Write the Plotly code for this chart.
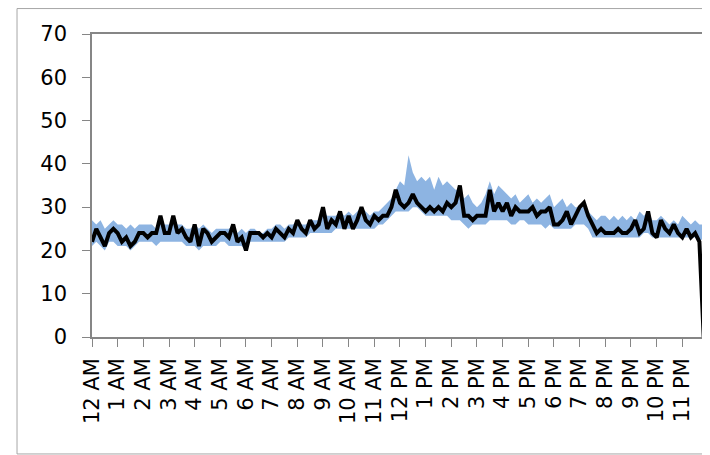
import plotly.graph_objects as go

# 10-minute samples, hour by hour (6 values per hour)
black = [
    22, 25, 23, 21, 24, 25,
    24, 22, 23, 21, 22, 24,
    24, 23, 24, 24, 28, 24,
    24, 28, 24, 25, 23, 22,
    26, 21, 25, 24, 22, 23,
    24, 24, 23, 26, 22, 23,
    20, 24, 24, 24, 23, 24,
    23, 25, 24, 23, 25, 24,
    27, 25, 24, 27, 25, 26,
    30, 25, 27, 26, 29, 25,
    28, 25, 27, 30, 27, 26,
    28, 27, 28, 28, 30, 34,
    31, 30, 31, 33, 31, 30,
    29, 30, 29, 30, 29, 31,
    30, 31, 35, 28, 28, 27,
    28, 28, 28, 34, 29, 31,
    29, 31, 28, 30, 29, 29,
    29, 30, 28, 29, 29, 30,
    26, 26, 27, 29, 26, 28,
    30, 31, 28, 26, 24, 25,
    24, 24, 24, 25, 24, 24,
    25, 27, 24, 25, 29, 24,
    23, 27, 25, 24, 26, 24,
    23, 25, 23, 24, 22, 0,
]
upper = [
    27, 26, 27, 25, 26, 27,
    26, 26, 25, 26, 25, 26,
    26, 26, 26, 25, 27, 26,
    26, 27, 26, 26, 25, 25,
    26, 25, 26, 25, 24, 25,
    25, 25, 25, 26, 24, 25,
    24, 25, 25, 24, 24, 25,
    25, 26, 26, 25, 26, 26,
    27, 26, 26, 27, 27, 27,
    29, 28, 28, 28, 29, 28,
    29, 28, 29, 30, 29, 28,
    29, 29, 30, 31, 32, 34,
    36, 35, 42, 38, 36, 37,
    36, 37, 34, 37, 35, 36,
    35, 34, 34, 32, 33, 31,
    30, 31, 33, 36, 33, 35,
    34, 33, 32, 33, 31, 32,
    33, 31, 32, 31, 32, 33,
    30, 31, 32, 30, 31, 30,
    30, 30, 29, 28, 27, 28,
    28, 27, 28, 27, 28, 27,
    28, 27, 29, 28, 29, 27,
    27, 28, 27, 26, 27, 26,
    28, 27, 26, 27, 26, 26,
]
lower = [
    21, 22, 21, 20, 22, 22,
    21, 21, 21, 20, 21, 22,
    22, 22, 22, 21, 22, 22,
    22, 22, 22, 22, 21, 21,
    21, 20, 21, 21, 21, 21,
    22, 22, 21, 21, 21, 21,
    20, 22, 22, 22, 22, 22,
    22, 22, 22, 22, 23, 23,
    23, 23, 23, 24, 24, 24,
    24, 24, 24, 25, 25, 25,
    25, 25, 25, 25, 25, 25,
    25, 26, 26, 27, 28, 29,
    29, 29, 29, 30, 30, 29,
    28, 28, 28, 28, 28, 28,
    27, 27, 27, 26, 25, 26,
    26, 26, 26, 27, 27, 27,
    27, 27, 26, 26, 27, 27,
    26, 26, 26, 26, 25, 26,
    25, 25, 25, 25, 25, 26,
    26, 26, 25, 23, 23, 23,
    23, 23, 23, 23, 23, 23,
    23, 23, 23, 24, 24, 23,
    23, 23, 23, 23, 23, 23,
    23, 23, 23, 23, 22, 23,
]
hour_labels = ["12 AM"] + [f"{h} AM" for h in range(1, 12)] + ["12 PM"] + [f"{h} PM" for h in range(1, 12)]

hours = [i / 6 for i in range(len(black))]

fig = go.Figure()
fig.add_trace(go.Scatter(x=hours, y=lower, mode="lines", line=dict(width=0, color="#8DB4E2"),
                         showlegend=False, hoverinfo="skip"))
fig.add_trace(go.Scatter(x=hours, y=upper, mode="lines", line=dict(width=0, color="#8DB4E2"),
                         fill="tonexty", fillcolor="#8DB4E2", showlegend=False))
fig.add_trace(go.Scatter(x=hours, y=black, mode="lines", line=dict(width=4, color="black"),
                         showlegend=False))

font = dict(family="DejaVu Sans", size=21, color="black")
fig.update_layout(
    width=702, height=447,
    margin=dict(l=84, r=6, t=26, b=118, autoexpand=False),
    paper_bgcolor="white", plot_bgcolor="white",
    font=font,
    xaxis=dict(range=[0, 23.845], tickvals=list(range(24)), ticktext=hour_labels,
               tickangle=-90, ticks="outside", ticklen=8, tickcolor="#868686",
               showline=True, linecolor="#868686", linewidth=1.5, mirror=True,
               showgrid=False, zeroline=False, tickfont=font, automargin=False,
               ticklabelstandoff=3),
    yaxis=dict(range=[0, 70], dtick=10, ticks="outside", ticklen=8, tickcolor="#868686",
               showline=True, linecolor="#868686", linewidth=1.5, mirror=True,
               showgrid=False, zeroline=False, tickfont=font, ticklabelstandoff=11,
               automargin=False),
    shapes=[dict(type="rect", xref="paper", yref="paper",
                 x0=-0.1225, x1=1.008, y0=-0.386, y1=1.084,
                 line=dict(color="#A6A6A6", width=1), layer="below")],
)
fig.write_html("out.html")
